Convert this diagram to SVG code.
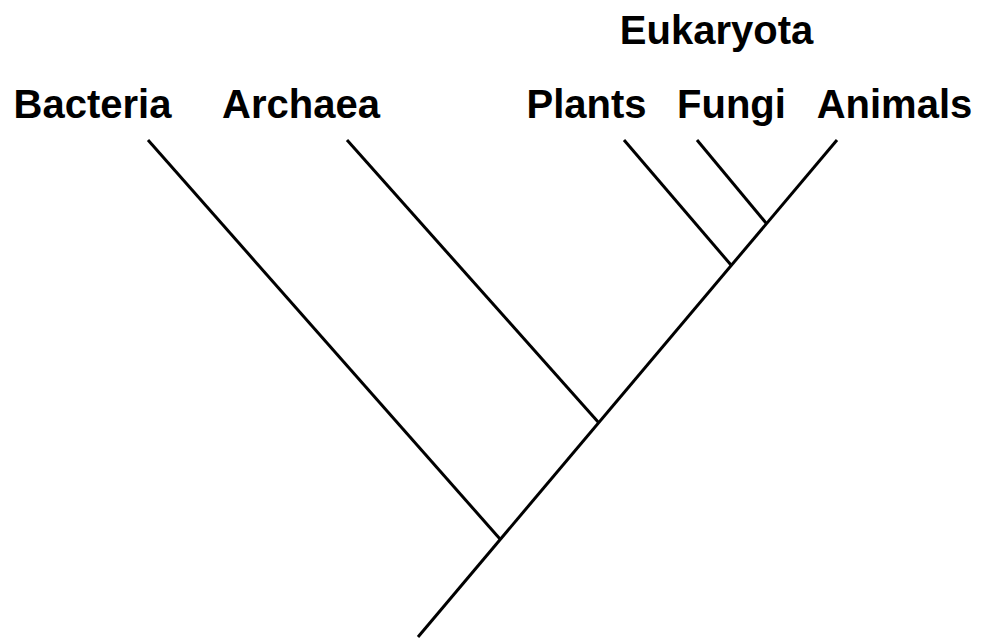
<svg xmlns="http://www.w3.org/2000/svg" width="981" height="641" viewBox="0 0 981 641">
  <style>
    .label { font-family: "Liberation Sans", Arial, sans-serif; font-weight: bold; font-size: 40px; fill: #000; text-anchor: middle; }
    .branch { stroke: #000; stroke-width: 3; stroke-linecap: butt; fill: none; }
  </style>
  <rect width="981" height="641" fill="#fff"/>

  <!-- tree branches -->
  <g id="connectors">
    <line class="branch" x1="418" y1="637" x2="837" y2="140"/>
    <line class="branch" x1="148" y1="140" x2="500" y2="539"/>
    <line class="branch" x1="347" y1="140" x2="599" y2="423"/>
    <line class="branch" x1="624" y1="140" x2="731" y2="265"/>
    <line class="branch" x1="697" y1="140" x2="766" y2="223"/>
  </g>

  <!-- taxon labels -->
  <g id="eukaryota"><text class="label" x="716.5" y="44">Eukaryota</text></g>
  <g id="bacteria"><text class="label" x="92.5" y="118">Bacteria</text></g>
  <g id="archaea"><text class="label" x="301" y="118">Archaea</text></g>
  <g id="plants"><text class="label" x="586.5" y="118">Plants</text></g>
  <g id="fungi"><text class="label" x="731.5" y="118">Fungi</text></g>
  <g id="animals"><text class="label" x="894.5" y="118">Animals</text></g>
</svg>
